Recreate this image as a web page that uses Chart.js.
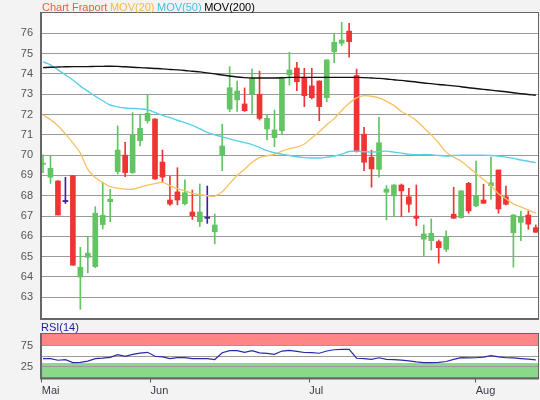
<!DOCTYPE html>
<html>
<head>
<meta charset="utf-8">
<script src="https://cdn.jsdelivr.net/npm/chart.js@4.4.1/dist/chart.umd.min.js"></script>
<style>
  html, body { margin: 0; padding: 0; background: #f3f3f3; }
  #wrap { position: relative; width: 540px; height: 400px; }
  canvas { position: absolute; left: 0; }
  #main { top: 0; }
  #rsi { top: 322px; }
</style>
</head>
<body>
<div id="wrap">
  <canvas id="main" width="540" height="322"></canvas>
  <canvas id="rsi" width="540" height="78"></canvas>
</div>
<script>
// Kurse (Handelstage)
const opens  = [69.55,68.91,68.73,67.71,68.99,64.00,64.97,64.51,66.58,67.71,69.19,70.00,69.14,70.71,71.70,71.78,69.66,67.79,68.19,67.61,67.20,66.72,66.89,66.23,70.00,72.27,72.72,72.52,73.00,73.00,71.29,70.86,71.20,73.95,74.29,73.81,73.41,73.65,72.83,75.09,75.51,76.11,73.92,71.03,69.90,69.30,68.17,67.99,68.53,67.95,67.00,65.86,65.79,65.74,65.36,67.09,66.92,68.61,67.50,67.79,68.50,69.27,67.95,66.18,66.69,67.05,66.43];
const highs  = [70.02,69.96,68.75,68.91,69.00,65.46,65.96,67.46,68.66,68.32,71.44,70.63,72.10,72.01,72.98,71.80,70.25,68.97,69.38,68.78,68.28,68.58,68.48,67.10,71.53,74.36,73.65,73.31,74.24,74.14,71.98,72.22,73.85,75.06,74.57,74.28,74.28,73.66,74.70,75.95,76.54,76.49,74.24,71.37,70.25,71.86,68.50,68.55,68.58,68.37,68.53,66.56,66.86,65.82,66.27,68.42,68.26,68.66,69.71,68.57,69.90,69.27,68.48,67.08,67.25,67.25,66.56];
const lows   = [69.14,68.61,67.05,67.62,64.58,62.41,64.21,64.46,66.36,66.72,69.07,68.94,69.10,70.45,71.58,68.80,68.70,67.53,67.55,67.55,66.83,66.48,66.64,65.63,69.23,72.14,72.15,72.15,72.05,71.73,70.75,70.42,71.04,73.45,73.17,72.39,72.77,71.70,72.63,74.55,75.39,74.82,70.15,69.23,68.42,68.91,66.81,66.97,66.97,67.19,66.53,65.05,65.33,64.68,65.25,66.89,66.90,67.14,67.46,67.63,67.83,67.14,67.55,64.48,65.79,66.35,66.20];
const closes = [69.60,69.35,67.05,67.71,64.58,64.48,65.17,67.14,67.04,67.83,70.25,69.14,71.02,71.32,72.06,68.83,68.92,67.59,67.79,68.15,67.02,67.20,66.89,66.56,70.45,73.32,73.16,72.19,73.77,71.81,71.81,71.24,73.81,74.19,73.62,72.93,72.83,72.39,74.69,75.56,75.67,75.59,70.20,69.65,69.32,70.61,68.33,68.53,68.24,67.58,66.89,66.12,66.15,65.44,65.99,66.89,68.24,67.25,67.99,67.63,68.64,67.35,67.58,67.05,66.94,66.60,66.20];

// gleitende Durchschnitte
const mov20  = [71.98,71.75,71.45,71.05,70.60,70.10,69.30,68.90,68.65,68.45,68.38,68.33,68.32,68.42,68.52,68.60,68.66,68.50,68.35,68.25,68.12,68.05,68.00,67.98,68.20,68.60,69.00,69.30,69.65,69.88,69.97,70.04,70.20,70.32,70.40,70.55,70.85,71.15,71.50,71.80,72.20,72.55,72.82,72.93,72.90,72.82,72.65,72.45,72.15,71.95,71.70,71.35,71.00,70.60,70.15,69.90,69.70,69.40,69.10,68.80,68.50,68.10,67.85,67.60,67.45,67.30,67.14];
const mov50  = [74.59,74.45,74.20,73.95,73.70,73.40,73.15,72.90,72.68,72.47,72.38,72.32,72.30,72.28,72.24,72.10,71.96,71.85,71.72,71.60,71.47,71.30,71.12,71.00,70.90,70.80,70.70,70.62,70.52,70.38,70.22,70.12,70.05,69.98,69.92,69.88,69.86,69.86,69.90,69.95,70.05,70.18,70.20,70.17,70.15,70.17,70.20,70.15,70.10,70.05,70.02,70.03,70.02,69.98,69.96,69.98,70.00,70.00,70.00,70.00,69.98,69.95,69.90,69.84,69.76,69.70,69.63];
const mov200 = [74.31,74.33,74.34,74.35,74.36,74.36,74.36,74.37,74.37,74.38,74.37,74.35,74.33,74.31,74.29,74.27,74.25,74.22,74.20,74.17,74.13,74.10,74.05,74.00,73.95,73.90,73.85,73.82,73.80,73.80,73.80,73.80,73.81,73.83,73.83,73.83,73.83,73.83,73.83,73.83,73.83,73.83,73.83,73.82,73.80,73.78,73.75,73.71,73.68,73.64,73.60,73.55,73.52,73.48,73.45,73.41,73.37,73.32,73.28,73.24,73.20,73.16,73.12,73.07,73.03,72.99,72.95];

// RSI(14)
const rsi14  = [44,44,40,41.5,34.5,35,38,44,45,47,53.5,49.5,54,57,59,49.5,48,44,46.5,46.5,44,44,44,41.7,58,63,63,59,63,57.5,56.5,54,62,63.5,61,58.5,58,56.7,62,65,66,66,44.8,44,42,46,42,41.7,40.3,38.5,36,34.5,34.5,35,37,42,46.4,45.5,46,47.5,51,48,46,45.5,44,42.5,41];

const monthLabels = ['Mai', 'Jun', 'Jul', 'Aug'];
const monthPos    = [-0.17, 14.4, 35.65, 57.95];
const yTicks      = [63, 64, 65, 66, 67, 68, 69, 70, 71, 72, 73, 74, 75, 76];
const rsiTicks    = [25, 50, 75];

const days = opens.map((_, i) => i);
const UP = '#62c462', DOWN = '#f03434', DOJI = '#3a22a2';
const candleColor = days.map(i => closes[i] > opens[i] ? UP : (closes[i] < opens[i] ? DOWN : DOJI));

const xMin = -0.27, xMax = 66.43;
const FONT = 'Liberation Sans, Arial, sans-serif';

// Achsen ohne Zusatzabstand fuer Randbeschriftungen
function fixY(axis) {
  axis.width = 41;
  axis.paddingTop = 0;
  axis.paddingBottom = 0;
}

// weisser Plotbereich + Rahmen
const frame = {
  id: 'frame',
  beforeDraw(chart) {
    const { ctx, chartArea: a } = chart;
    ctx.save();
    ctx.fillStyle = '#fff';
    ctx.fillRect(a.left, a.top, a.right - a.left, a.bottom - a.top);
    ctx.restore();
  },
  afterDraw(chart) {
    const { ctx, chartArea: a } = chart;
    ctx.save();
    ctx.strokeStyle = '#666';
    ctx.lineWidth = 1;
    ctx.strokeRect(a.left + 0.5, a.top + 0.5, a.right - a.left - 1, a.bottom - a.top - 1);
    ctx.lineWidth = 2;
    ctx.beginPath();
    ctx.moveTo(a.left, a.top);
    ctx.lineTo(a.left, a.bottom);
    ctx.lineTo(a.right, a.bottom);
    ctx.stroke();
    ctx.restore();
  }
};

// Kopfzeile
const header = {
  id: 'header',
  afterDraw(chart) {
    const ctx = chart.ctx;
    const parts = [['Chart Fraport', '#e8603c'], ['MOV(20)', '#f2b84a'], ['MOV(50)', '#3cc4e0'], ['MOV(200)', '#000']];
    ctx.save();
    ctx.font = '11px ' + FONT;
    ctx.textBaseline = 'alphabetic';
    let x = 42;
    parts.forEach(([t, c]) => {
      ctx.fillStyle = c;
      ctx.fillText(t, x, 11);
      x += ctx.measureText(t).width + 2.5;
    });
    ctx.restore();
  }
};

new Chart(document.getElementById('main'), {
  type: 'bar',
  data: {
    datasets: [
      {
        type: 'line', label: 'MOV(200)', order: 1,
        data: days.map(i => ({ x: i, y: mov200[i] })),
        borderColor: '#111', borderWidth: 1.4, pointRadius: 0, tension: 0.3
      },
      {
        type: 'line', label: 'MOV(50)', order: 1,
        data: days.map(i => ({ x: i, y: mov50[i] })),
        borderColor: '#5ad0e8', borderWidth: 1.4, pointRadius: 0, tension: 0.3
      },
      {
        type: 'line', label: 'MOV(20)', order: 1,
        data: days.map(i => ({ x: i, y: mov20[i] })),
        borderColor: '#f6c260', borderWidth: 1.3, pointRadius: 0, tension: 0.3
      },
      {
        label: 'Docht', order: 3, grouped: false,
        data: days.map(i => ({ x: i, y: [lows[i], highs[i]] })),
        backgroundColor: candleColor, barThickness: 1, minBarLength: 1
      },
      {
        label: 'Koerper', order: 2, grouped: false,
        data: days.map(i => ({ x: i, y: [opens[i], closes[i]] })),
        backgroundColor: candleColor, barThickness: 5, minBarLength: 1.2
      }
    ]
  },
  options: {
    responsive: false,
    animation: false,
    layout: { padding: { top: 12, right: 1, bottom: 3, left: 0 } },
    plugins: { legend: { display: false }, tooltip: { enabled: false } },
    scales: {
      x: {
        type: 'linear', min: xMin, max: xMax, offset: false,
        grid: { display: false, offset: false }, border: { display: false },
        ticks: { display: false },
        afterFit: axis => { axis.height = 0; axis.paddingLeft = 0; axis.paddingRight = 0; }
      },
      y: {
        min: 61.93, max: 77.05,
        afterBuildTicks: axis => { axis.ticks = yTicks.map(v => ({ value: v })); },
        afterFit: fixY,
        grid: { color: '#9a9a9a', drawTicks: false },
        border: { display: false },
        ticks: { color: '#555', font: { family: FONT, size: 11 }, padding: 8 }
      }
    }
  },
  plugins: [frame, header]
});

// RSI-Baender
const rsiHigh = 75.5, rsiLow = 33.4;
const bands = {
  id: 'bands',
  beforeDraw(chart) {
    const { ctx, chartArea: a, scales: { y } } = chart;
    const yHi = y.getPixelForValue(rsiHigh), yLo = y.getPixelForValue(rsiLow);
    ctx.save();
    ctx.fillStyle = '#ff8686';
    ctx.fillRect(a.left, a.top, a.right - a.left, yHi - a.top);
    ctx.fillStyle = '#8ad98a';
    ctx.fillRect(a.left, yLo, a.right - a.left, a.bottom - yLo);
    ctx.restore();
  },
  afterDraw(chart) {
    const ctx = chart.ctx;
    ctx.save();
    ctx.font = '11px ' + FONT;
    ctx.fillStyle = '#1c1ca8';
    ctx.fillText('RSI(14)', 41, 9);
    ctx.restore();
  }
};

new Chart(document.getElementById('rsi'), {
  type: 'line',
  data: {
    datasets: [{
      label: 'RSI(14)',
      data: days.map(i => ({ x: i, y: rsi14[i] })),
      borderColor: '#2a2aa8', borderWidth: 1.2, pointRadius: 0, tension: 0
    }]
  },
  options: {
    responsive: false,
    animation: false,
    layout: { padding: { top: 11, right: 1, bottom: 0, left: 0 } },
    plugins: { legend: { display: false }, tooltip: { enabled: false } },
    scales: {
      x: {
        type: 'linear', min: xMin, max: xMax, offset: false,
        afterBuildTicks: axis => { axis.ticks = monthPos.map(v => ({ value: v })); },
        afterFit: axis => { axis.height = 21.5; axis.paddingLeft = 0; axis.paddingRight = 0; },
        grid: { drawOnChartArea: false, drawTicks: true, tickLength: 4, color: '#555' },
        border: { display: false },
        ticks: {
          callback: (v, i) => monthLabels[i],
          align: 'start', autoSkip: false, maxRotation: 0, padding: 2,
          color: '#3a3a4a', font: { family: FONT, size: 11 }
        }
      },
      y: {
        min: -3.5, max: 105,
        afterBuildTicks: axis => { axis.ticks = rsiTicks.map(v => ({ value: v })); },
        afterFit: fixY,
        grid: { color: '#9a9a9a', drawTicks: false },
        border: { display: false },
        ticks: {
          callback: v => (v === 50 ? '' : String(v)),
          color: '#555', font: { family: FONT, size: 11 }, padding: 8
        }
      }
    }
  },
  plugins: [frame, bands]
});
</script>
</body>
</html>
